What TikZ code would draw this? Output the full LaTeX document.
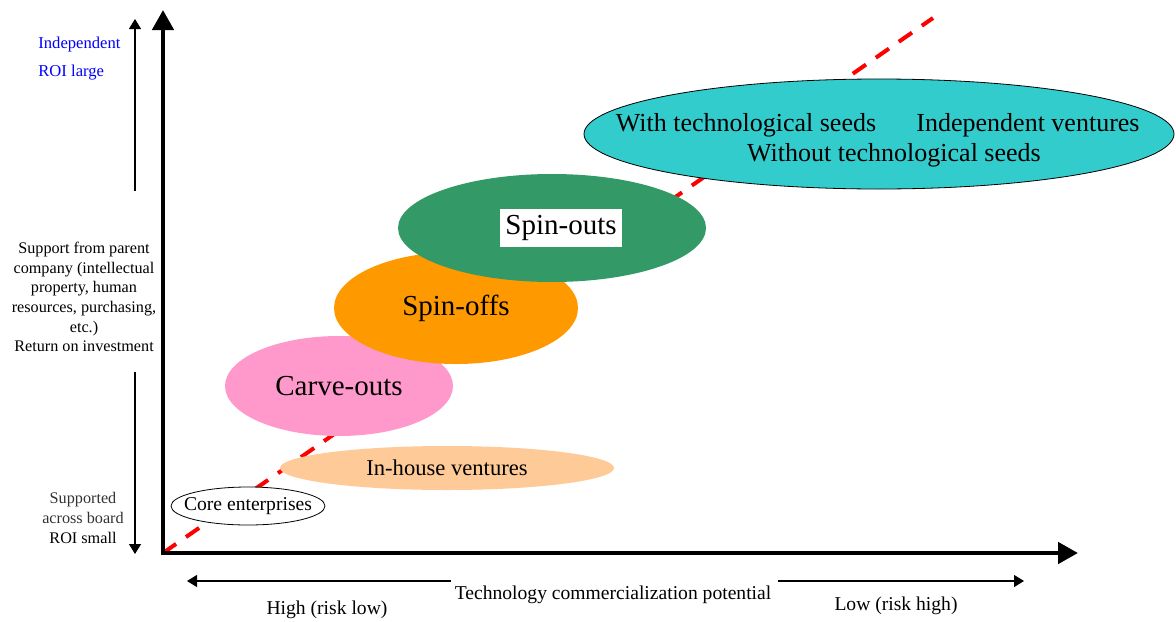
\documentclass[tikz,border=0pt]{standalone}
\usepackage{fontspec}
\setmainfont{Liberation Serif}
\usetikzlibrary{arrows.meta,shapes.geometric}
\definecolor{peach}{RGB}{253,202,152}
\definecolor{carvepink}{RGB}{255,153,204}
\definecolor{spinorange}{RGB}{255,153,0}
\definecolor{spingreen}{RGB}{51,153,102}
\definecolor{indepcyan}{RGB}{51,204,204}
\definecolor{roiblue}{RGB}{0,0,255}
\definecolor{softblack}{RGB}{50,50,50}

\begin{document}
\begin{tikzpicture}[x=0.5pt, y=-0.5pt,
    blob/.style={ellipse, inner sep=0pt, font=\fontsize{14.5}{17}\selectfont},
    bigaxis/.style={line width=2.3pt, {Triangle[width=10.5pt,length=10pt]}-{Triangle[width=10.5pt,length=10pt]}},
    thinarrow/.style={line width=0.6pt, -{Triangle[width=6pt,length=5pt]}},
    sidetext/.style={align=center, inner sep=0pt, font=\fontsize{8.1}{9.8}\selectfont},
    axistext/.style={inner sep=0pt, font=\fontsize{9.8}{11}\selectfont},
    seedtext/.style={inner sep=0pt, font=\fontsize{13}{15}\selectfont}
  ]
  \useasboundingbox (0,0) rectangle (1176,621);

  % trend line, behind everything
  \coordinate (trendstart) at (163,553);
  \coordinate (trendend) at (933,18);
  \draw[red, line width=2pt, dash pattern=on 8pt off 6pt] (trendstart) -- (trendend);

  % ventures
  \node[blob, draw, fill=white, thin, inner xsep=-5pt, minimum width=77pt, minimum height=19pt, font=\fontsize{9.8}{11}\selectfont] (core) at (248,506) {Core enterprises};
  \node[blob, fill=peach, minimum width=167pt, minimum height=22pt, font=\fontsize{11.3}{13}\selectfont] (inhouse) at (447,468) {In-house ventures};
  \node[blob, fill=carvepink, minimum width=114pt, minimum height=50pt] (carve) at (339,386) {Carve-outs};
  \node[blob, fill=spinorange, minimum width=122pt, minimum height=56pt] (spinoff) at (456,308) {Spin-offs};
  \node[blob, fill=spingreen, minimum width=154pt, minimum height=54pt] (spinout) at (552,228) {};
  \node[fill=white, inner xsep=2.5pt, inner ysep=3pt, font=\fontsize{14.5}{17}\selectfont] (spinouttext) at (561,228) {Spin-outs};
  \node[blob, draw, fill=indepcyan, thin, minimum width=295pt, minimum height=55pt] (indep) at (879,134) {};
  \node[seedtext] (withseeds) at (746,125) {With technological seeds};
  \node[seedtext] (indeptext) at (1028,125) {Independent ventures};
  \node[seedtext] (withoutseeds) at (894,155) {Without technological seeds};

  % axes
  \coordinate (origin) at (163,553);
  \coordinate (ytip) at (163,10);
  \coordinate (xtip) at (1078,553);
  \draw[bigaxis] (ytip) -- (origin) -- (xtip);

  % vertical scale on the left
  \coordinate (upstart) at (135,191);
  \coordinate (uptip) at (135,19);
  \coordinate (downstart) at (135,372);
  \coordinate (downtip) at (135,554);
  \draw[thinarrow] (upstart) -- (uptip);
  \draw[thinarrow] (downstart) -- (downtip);
  \node[anchor=west, align=left, inner sep=0pt, text=roiblue, font=\fontsize{8.3}{14}\selectfont] (roilarge) at (38,59) {Independent\\ROI large};
  \node[sidetext] (support) at (84,297) {Support from parent\\company (intellectual\\property, human\\resources, purchasing,\\etc.)\\Return on investment};
  \node[sidetext, font=\fontsize{8.1}{10}\selectfont] (roismall) at (83,518) {\textcolor{softblack}{Supported}\\\textcolor{softblack}{across board}\\ROI small};

  % horizontal scale below
  \coordinate (leftstart) at (451,581);
  \coordinate (lefttip) at (187,581);
  \coordinate (rightstart) at (778,581);
  \coordinate (righttip) at (1024,581);
  \draw[thinarrow] (leftstart) -- (lefttip);
  \draw[thinarrow] (rightstart) -- (righttip);
  \node[axistext] (potential) at (613,595) {Technology commercialization potential};
  \node[axistext] (high) at (327,610) {High (risk low)};
  \node[axistext] (low) at (896,606) {Low (risk high)};
\end{tikzpicture}
\end{document}
